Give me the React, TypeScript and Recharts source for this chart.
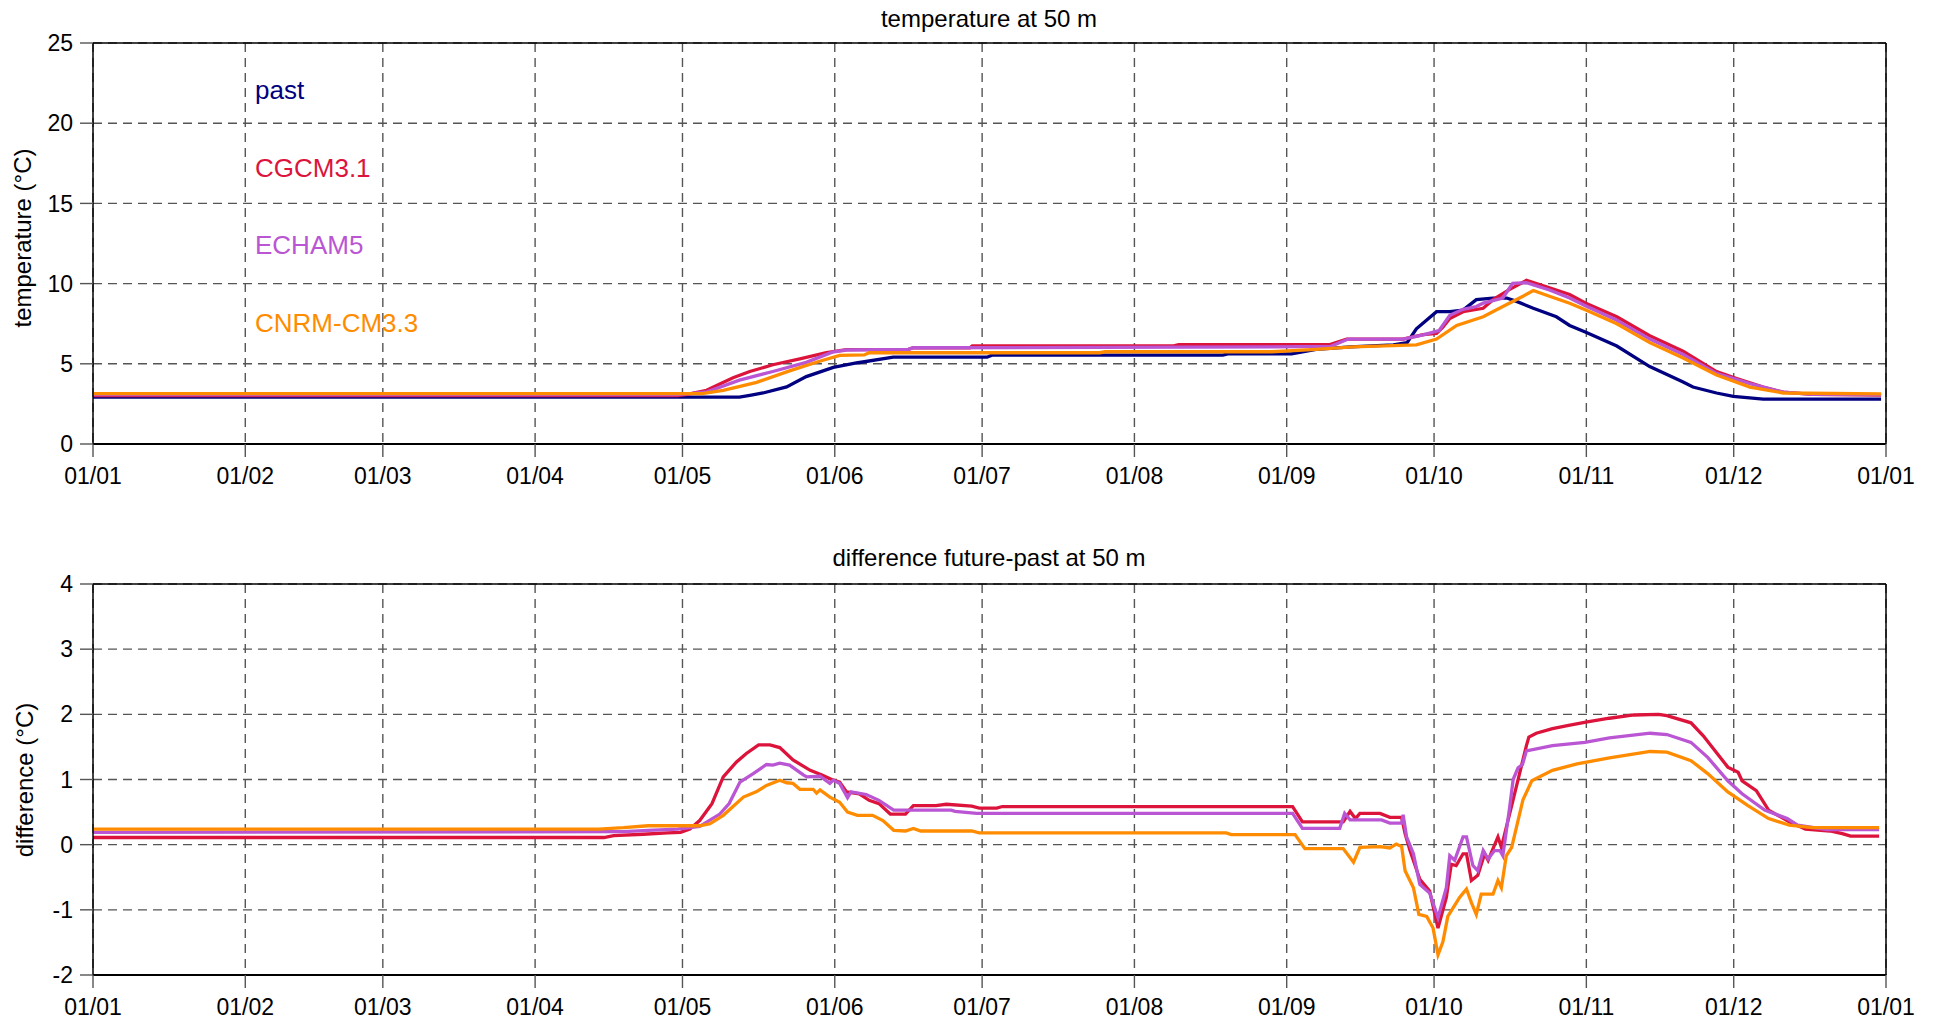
import React from 'react';
import { LineChart, Line, XAxis, YAxis, CartesianGrid } from 'recharts';

// ---- axis ticks ----
const monthTicks = [0, 31, 59, 90, 120, 151, 181, 212, 243, 273, 304, 334, 365];
const monthLabels = ['01/01', '01/02', '01/03', '01/04', '01/05', '01/06', '01/07', '01/08', '01/09', '01/10', '01/11', '01/12', '01/01'];
const tempTicks = [0, 5, 10, 15, 20, 25];
const diffTicks = [-2, -1, 0, 1, 2, 3, 4];

const seriesNames = ['past', 'CGCM3.1', 'ECHAM5', 'CNRM-CM3.3'];
const seriesColors = ['#000080', '#DC143C', '#BA55D3', '#FF8C00'];

// ---- temperature at 50 m ----
const pastDays = [0, 131.6, 134, 136.4, 141.2, 145.2, 150.7, 155.4, 162.9, 182, 183, 230, 231, 244, 249, 256, 264.7, 267.5, 269.4, 273.5, 276.2, 278.9, 281.6, 285, 287.8, 289.8, 293.2, 297.9, 300.6, 303.9, 310.2, 316.9, 323.7, 325.7, 330.5, 333.9, 340, 364];
const pastTemp = [2.92, 2.92, 3.05, 3.18, 3.56, 4.2, 4.78, 5.05, 5.41, 5.41, 5.54, 5.54, 5.62, 5.62, 5.9, 6.05, 6.18, 6.32, 7.18, 8.25, 8.25, 8.35, 9.0, 9.1, 9.1, 8.89, 8.46, 7.93, 7.39, 6.97, 6.11, 4.83, 3.87, 3.55, 3.18, 2.97, 2.8, 2.8];

const cgcmTempDays = [0, 119, 121, 124.9, 130.3, 133.7, 138.4, 143.9, 149.3, 153.4, 166, 167, 178.5, 179, 220, 221, 251.8, 255.2, 266.7, 270.8, 273.5, 274.8, 276.2, 278.9, 283, 285, 288.4, 291.8, 296.5, 300.6, 303.9, 310.2, 316.9, 323.7, 330.5, 334.6, 340, 344.1, 350, 364];
const cgcmTemp = [3.02, 3.02, 3.1, 3.35, 4.13, 4.52, 4.94, 5.31, 5.69, 5.88, 5.9, 6.0, 6.0, 6.12, 6.12, 6.2, 6.2, 6.54, 6.54, 6.82, 6.9, 7.29, 7.82, 8.25, 8.46, 9.0, 9.64, 10.2, 9.74, 9.32, 8.78, 7.93, 6.75, 5.79, 4.51, 4.08, 3.55, 3.23, 3.1, 3.05];

const echamTempDays = [0, 119, 122, 125, 131.6, 138.4, 145.2, 150.5, 153.4, 166, 167, 240, 252, 255.5, 266.7, 270.8, 274, 276.2, 278.9, 281.6, 283, 287, 289, 291.8, 296.5, 300.6, 303.9, 310.2, 316.9, 323.7, 330.5, 337.3, 344.1, 350, 364];
const echamTemp = [3.08, 3.08, 3.15, 3.25, 3.98, 4.52, 5.09, 5.73, 5.86, 5.9, 6.0, 6.05, 6.09, 6.54, 6.54, 6.8, 7.07, 8.03, 8.4, 8.57, 8.78, 9.1, 10.02, 10.06, 9.6, 9.1, 8.61, 7.71, 6.54, 5.58, 4.4, 3.76, 3.23, 3.1, 3.08];

const cnrmTempDays = [0, 124, 128.3, 135.1, 141.8, 147.9, 152, 157, 158, 205, 206, 240, 249, 256.5, 269.4, 273.5, 277.6, 283, 287, 291.1, 293.2, 296.5, 300.6, 303.9, 310.2, 316.9, 323.7, 330.5, 337.3, 344.1, 364];
const cnrmTemp = [3.14, 3.14, 3.34, 3.84, 4.56, 5.16, 5.52, 5.55, 5.69, 5.69, 5.75, 5.75, 5.9, 6.05, 6.18, 6.54, 7.39, 7.93, 8.57, 9.21, 9.57, 9.21, 8.78, 8.35, 7.5, 6.32, 5.36, 4.3, 3.55, 3.18, 3.12];

// ---- difference future-past at 50 m ----
const cgcmDiffDays = [0, 104, 106, 112, 117, 119.6, 121.5, 123.5, 126, 128.3, 131, 133, 135.5, 137.8, 139.8, 142.5, 146, 148.4, 150.7, 152, 153.4, 156, 158, 160, 162.3, 165.4, 167, 171.6, 173.7, 178.9, 180.4, 184, 185.1, 244.2, 246.2, 254.5, 255.9, 257, 257.9, 262, 264, 266.4, 267.1, 268.1, 270.1, 272.1, 273.8, 275.5, 276.5, 277.5, 278.9, 279.6, 280.6, 281.9, 283.3, 284, 286, 286.7, 289.1, 291.8, 292.3, 293.8, 297.1, 300.4, 303.9, 308.7, 313.7, 318.7, 320.4, 325.3, 327.8, 332.8, 334.9, 335.7, 338.6, 341.1, 345.3, 348.6, 353.6, 356.1, 357.8, 363.6];
const cgcmDiff = [0.11, 0.11, 0.14, 0.16, 0.18, 0.19, 0.24, 0.37, 0.63, 1.04, 1.27, 1.4, 1.53, 1.53, 1.49, 1.3, 1.14, 1.07, 0.99, 0.96, 0.81, 0.78, 0.68, 0.63, 0.47, 0.47, 0.6, 0.6, 0.62, 0.59, 0.56, 0.56, 0.585, 0.585, 0.35, 0.35, 0.51, 0.4, 0.48, 0.48, 0.42, 0.42, 0.17, -0.09, -0.53, -0.71, -1.28, -0.81, -0.3, -0.32, -0.14, -0.14, -0.55, -0.47, -0.14, -0.24, 0.12, -0.04, 0.69, 1.52, 1.65, 1.71, 1.78, 1.83, 1.88, 1.94, 1.99, 2.0, 1.98, 1.87, 1.67, 1.19, 1.11, 0.98, 0.83, 0.53, 0.35, 0.24, 0.21, 0.17, 0.13, 0.13];

const echamDiffDays = [0, 108, 113, 119, 123.5, 127.6, 129.5, 131.7, 134.4, 137.1, 138.4, 139.8, 141.8, 144.6, 145.3, 148, 150, 150.7, 152, 153.6, 154.3, 157.4, 160, 163, 174.7, 175.5, 179.9, 244.2, 246.2, 253.8, 254.8, 255.9, 262.3, 264, 266.4, 266.7, 267.4, 268.8, 270.1, 272.1, 273.8, 275.5, 276.2, 277.2, 278.9, 279.6, 280.9, 281.9, 283, 284, 285.3, 286.4, 287, 288.4, 289.1, 290.1, 291, 291.8, 297.1, 303.7, 308.7, 317, 320.4, 325.3, 328.7, 332.8, 335.7, 340.3, 344.9, 347, 353, 363.6];
const echamDiff = [0.19, 0.2, 0.22, 0.24, 0.28, 0.47, 0.63, 0.96, 1.09, 1.23, 1.22, 1.25, 1.22, 1.07, 1.04, 1.05, 0.94, 0.99, 0.94, 0.72, 0.81, 0.77, 0.68, 0.53, 0.53, 0.51, 0.48, 0.48, 0.25, 0.25, 0.48, 0.38, 0.38, 0.33, 0.33, 0.46, 0.12, -0.14, -0.61, -0.74, -1.12, -0.66, -0.17, -0.24, 0.12, 0.12, -0.32, -0.4, -0.09, -0.22, -0.09, -0.09, -0.17, 0.58, 1.0, 1.18, 1.23, 1.44, 1.52, 1.57, 1.64, 1.71, 1.69, 1.57, 1.34, 0.98, 0.78, 0.53, 0.4, 0.3, 0.23, 0.23];

const cnrmDiffDays = [0, 103, 108, 113, 123.5, 125.6, 128.3, 132.4, 135, 137.1, 139.8, 141.2, 142.5, 143.9, 146.6, 147.3, 148, 150, 152, 153.6, 155.6, 158.7, 160.8, 163, 165.4, 167, 168.5, 178.9, 180.4, 230.7, 231.7, 244.7, 246.7, 254.5, 256.6, 257.9, 262, 264, 265.3, 266.4, 267.1, 268.8, 269.9, 271.5, 272.8, 273.8, 274.8, 275.8, 278.2, 279.6, 280.6, 281.6, 282.6, 285, 286, 286.7, 287.7, 288.8, 291.1, 292.9, 297.1, 302.1, 308.7, 317, 320.4, 325.3, 328.7, 332.8, 336.9, 341.1, 345.3, 350, 363.6];
const cnrmDiff = [0.24, 0.24, 0.26, 0.29, 0.29, 0.32, 0.45, 0.73, 0.81, 0.91, 0.99, 0.95, 0.94, 0.85, 0.85, 0.79, 0.84, 0.73, 0.65, 0.5, 0.45, 0.45, 0.37, 0.22, 0.21, 0.25, 0.21, 0.21, 0.18, 0.18, 0.155, 0.155, -0.06, -0.06, -0.27, -0.04, -0.03, -0.05, 0.01, -0.03, -0.4, -0.66, -1.07, -1.1, -1.28, -1.69, -1.49, -1.1, -0.81, -0.68, -0.89, -1.07, -0.76, -0.76, -0.55, -0.66, -0.17, -0.04, 0.69, 0.98, 1.14, 1.24, 1.33, 1.43, 1.42, 1.29, 1.09, 0.81, 0.6, 0.4, 0.3, 0.26, 0.26];

const zip = (days: number[], vals: number[]) => days.map((d, i) => ({ day: d, v: vals[i] }));

const tempSeries = [zip(pastDays, pastTemp), zip(cgcmTempDays, cgcmTemp), zip(echamTempDays, echamTemp), zip(cnrmTempDays, cnrmTemp)];
const diffSeries = [zip(cgcmDiffDays, cgcmDiff), zip(echamDiffDays, echamDiff), zip(cnrmDiffDays, cnrmDiff)];
const diffColors = seriesColors.slice(1);

const FONT = "'Liberation Sans', Arial, Helvetica, sans-serif";
const tickStyle = { fill: '#000', fontSize: 23, fontFamily: FONT };
const GRID = '#555';
const LW = 3.3;
const fmtMonth = (v: number) => monthLabels[monthTicks.indexOf(v)] ?? '';

function axes(yTicks: number[], yDomain: [number, number]) {
  return [
    <CartesianGrid key="g" stroke={GRID} strokeDasharray="9 6" strokeWidth={1.4} />,
    <XAxis key="xb" xAxisId={0} type="number" dataKey="day" domain={[0, 365]} ticks={monthTicks} interval={0}
      tickFormatter={fmtMonth} allowDataOverflow height={40} tickSize={13} tickMargin={11}
      axisLine={{ stroke: '#000', strokeWidth: 2 }} tickLine={{ stroke: GRID, strokeWidth: 1.4 }} tick={tickStyle} />,
    <XAxis key="xt" xAxisId="top" orientation="top" type="number" dataKey="day" domain={[0, 365]} ticks={monthTicks} interval={0}
      allowDataOverflow height={13} tickSize={13} tick={false}
      axisLine={{ stroke: '#000', strokeWidth: 1.5 }} tickLine={{ stroke: GRID, strokeWidth: 1.4 }} />,
    <YAxis key="yl" yAxisId={0} type="number" domain={yDomain} ticks={yTicks} interval={0} allowDataOverflow
      width={93} tickSize={13} tickMargin={7}
      axisLine={{ stroke: '#000', strokeWidth: 1.5 }} tickLine={{ stroke: GRID, strokeWidth: 1.4 }} tick={tickStyle} />,
    <YAxis key="yr" yAxisId="right" orientation="right" type="number" domain={yDomain} ticks={yTicks} interval={0} allowDataOverflow
      width={13} tickSize={13} tick={false}
      axisLine={{ stroke: '#000', strokeWidth: 1.5 }} tickLine={{ stroke: GRID, strokeWidth: 1.4 }} />,
  ];
}

const abs = (x: number, y: number, extra: React.CSSProperties = {}): React.CSSProperties => ({
  position: 'absolute', left: x, top: y, transform: 'translate(-50%, -50%)', whiteSpace: 'nowrap', lineHeight: 1, fontFamily: FONT, ...extra,
});

export default function App() {
  return (
    <div style={{ position: 'absolute', left: 0, top: 0, width: 1940, height: 1023, background: '#fff', overflow: 'hidden' }}>
      <div style={{ position: 'absolute', left: 0, top: 0 }}>
        <LineChart width={1940} height={500} margin={{ top: 30, right: 41, bottom: 16, left: 0 }}>
          {axes(tempTicks, [0, 25])}
          {tempSeries.map((d, i) => (
            <Line key={seriesNames[i]} data={d} dataKey="v" name={seriesNames[i]} type="linear" stroke={seriesColors[i]}
              strokeWidth={LW} dot={false} activeDot={false} isAnimationActive={false} />
          ))}
        </LineChart>
      </div>
      <div style={{ position: 'absolute', left: 0, top: 500 }}>
        <LineChart width={1940} height={523} margin={{ top: 71, right: 41, bottom: 8, left: 0 }}>
          {axes(diffTicks, [-2, 4])}
          {diffSeries.map((d, i) => (
            <Line key={seriesNames[i + 1]} data={d} dataKey="v" name={seriesNames[i + 1]} type="linear" stroke={diffColors[i]}
              strokeWidth={LW} dot={false} activeDot={false} isAnimationActive={false} />
          ))}
        </LineChart>
      </div>

      <div style={abs(989, 19, { fontSize: 24 })}>temperature at 50 m</div>
      <div style={abs(989, 558, { fontSize: 24 })}>difference future-past at 50 m</div>
      <div style={abs(23, 238, { fontSize: 24, transform: 'translate(-50%, -50%) rotate(-90deg)' })}>temperature (°C)</div>
      <div style={abs(25, 780, { fontSize: 24, transform: 'translate(-50%, -50%) rotate(-90deg)' })}>difference (°C)</div>

      {seriesNames.map((n, i) => (
        <div key={n} style={{ position: 'absolute', left: 255, top: 90 + i * 77.7, transform: 'translateY(-50%)', fontSize: 26, lineHeight: 1, fontFamily: FONT, color: seriesColors[i], whiteSpace: 'nowrap' }}>{n}</div>
      ))}
    </div>
  );
}
